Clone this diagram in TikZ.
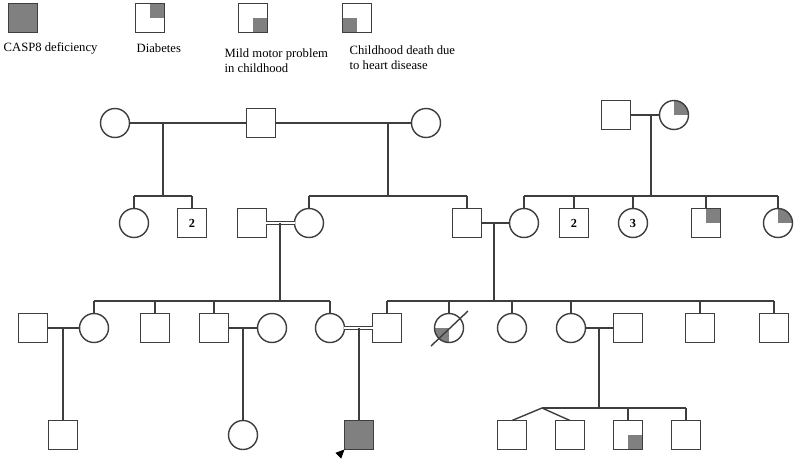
\documentclass[tikz,border=0pt]{standalone}
\usepackage{fontspec}
\setmainfont{Liberation Serif}
\usetikzlibrary{arrows.meta}
\definecolor{pedline}{RGB}{62,62,62}
\definecolor{affgray}{RGB}{128,128,128}

\begin{document}
\begin{tikzpicture}[x=0.02cm, y=-0.02cm, line width=0.8pt, pedline,
  male/.style={draw, rectangle, minimum size=0.58cm, inner sep=0pt, outer sep=0pt, text=black, font=\fontsize{7}{8}\selectfont\bfseries},
  female/.style={draw, circle, minimum size=0.58cm, inner sep=0pt, outer sep=0pt, text=black, font=\fontsize{7}{8}\selectfont\bfseries},
  full/.style={fill=affgray},
  qtr/.style={path picture={\fill[affgray] (path picture bounding box.center) rectangle (path picture bounding box.north east);}},
  qbr/.style={path picture={\fill[affgray] (path picture bounding box.center) rectangle (path picture bounding box.south east);}},
  qbl/.style={path picture={\fill[affgray] (path picture bounding box.center) rectangle (path picture bounding box.south west);}},
  legtext/.style={text=black, align=left, inner sep=0pt, font=\fontsize{7.2}{8.6}\selectfont},
  dbl/.style={double=white, double distance=0.7pt, line width=0.75pt}]
\fill[white] (0,0) rectangle (796,458);
\useasboundingbox (0,0) rectangle (796,458);

% Legend
\node[male, full] (lg1) at (23,18) {};
\node[male, qtr] (lg2) at (150,18) {};
\node[male, qbr] (lg3) at (253,18) {};
\node[male, qbl] (lg4) at (357,18) {};
\node[legtext, anchor=west] (lt1) at (3,48) {CASP8 deficiency};
\node[legtext, anchor=west] (lt2) at (136,48) {Diabetes};
\node[legtext, anchor=north west] (lt3) at (224,48) {Mild motor problem\\in childhood};
\node[legtext, anchor=north west] (lt4) at (349,45) {Childhood death due\\to heart disease};

% Generation I
\node[female] (I1) at (115,123) {};
\node[male] (I2) at (261,123) {};
\node[female] (I3) at (426,123) {};
\node[male] (I4) at (616,115) {};
\node[female, qtr] (I5) at (674,115) {};
\draw (I1) -- (I2);
\draw (I2) -- (I3);
\draw (I4) -- (I5);

% Generation II
\node[female] (II1) at (134,223) {};
\node[male] (II2) at (192,223) {2};
\node[male] (II3) at (252,223) {};
\node[female] (II4) at (309,223) {};
\node[male] (II5) at (467,223) {};
\node[female] (II6) at (524,223) {};
\node[male] (II7) at (574,223) {2};
\node[female] (II8) at (633,223) {3};
\node[male, qtr] (II9) at (706,223) {};
\node[female, qtr] (II10) at (778,223) {};
\draw[dbl] (II3) -- (II4);
\draw (II5) -- (II6);

% Descent I -> II
\coordinate (m1) at (163,123);
\coordinate (m2) at (388,123);
\coordinate (m3) at (651,115);
\coordinate (s1a) at (134,196);
\coordinate (s1b) at (192,196);
\coordinate (s2a) at (309,196);
\coordinate (s2b) at (467,196);
\coordinate (s3a) at (524,196);
\coordinate (s3b) at (778,196);
\draw (m1) -- (m1 |- s1a);
\draw (m2) -- (m2 |- s2a);
\draw (m3) -- (m3 |- s3a);
\draw (s1a) -- (s1b);
\draw (s2a) -- (s2b);
\draw (s3a) -- (s3b);
\foreach \c in {II1,II2} \draw (\c) -- (\c |- s1a);
\foreach \c in {II4,II5} \draw (\c) -- (\c |- s2a);
\foreach \c in {II6,II7,II8,II9,II10} \draw (\c) -- (\c |- s3a);

% Generation III
\node[male] (III1) at (33,328) {};
\node[female] (III2) at (94,328) {};
\node[male] (III3) at (155,328) {};
\node[male] (III4) at (214,328) {};
\node[female] (III5) at (272,328) {};
\node[female] (III6) at (330,328) {};
\node[male] (III7) at (387,328) {};
\node[female, qbl] (III8) at (449,328) {};
\node[female] (III9) at (512,328) {};
\node[female] (III10) at (571,328) {};
\node[male] (III11) at (628,328) {};
\node[male] (III12) at (700,328) {};
\node[male] (III13) at (774,328) {};
\draw (III1) -- (III2);
\draw (III4) -- (III5);
\draw[dbl] (III6) -- (III7);
\draw (III10) -- (III11);
\draw ([shift={(-18,18)}]III8.center) -- ([shift={(19,-17)}]III8.center);

% Descent II -> III
\coordinate (m4) at (280,223);
\coordinate (m5) at (494,223);
\coordinate (s4a) at (94,301);
\coordinate (s4b) at (330,301);
\coordinate (s5a) at (387,301);
\coordinate (s5b) at (774,301);
\draw (m4) -- (m4 |- s4a);
\draw (m5) -- (m5 |- s5a);
\draw (s4a) -- (s4b);
\draw (s5a) -- (s5b);
\foreach \c in {III2,III3,III4,III6} \draw (\c) -- (\c |- s4a);
\foreach \c in {III7,III8,III9,III10,III12,III13} \draw (\c) -- (\c |- s5a);

% Generation IV
\node[male] (IV1) at (63,435) {};
\node[female] (IV2) at (243,435) {};
\node[male, full] (IV3) at (359,435) {};
\node[male] (IV4) at (512,435) {};
\node[male] (IV5) at (570,435) {};
\node[male, qbr] (IV6) at (628,435) {};
\node[male] (IV7) at (686,435) {};

% Descent III -> IV
\coordinate (m6) at (63,328);
\coordinate (m7) at (243,328);
\coordinate (m8) at (359,328);
\coordinate (m9) at (599,328);
\coordinate (tw) at (542,408);
\coordinate (s6b) at (686,408);
\draw (m6) -- (IV1);
\draw (m7) -- (IV2);
\draw (m8) -- (IV3);
\draw (m9) -- (m9 |- tw);
\draw (tw) -- (s6b);
\draw (tw) -- (IV4.north);
\draw (tw) -- (IV5.north);
\foreach \c in {IV6,IV7} \draw (\c) -- (\c |- tw);

% Proband
\coordinate (pb) at (339,455);
\draw[black, line width=0.5pt, -{Triangle[length=5pt,width=4.5pt]}] (pb) -- (IV3.south west);
\end{tikzpicture}
\end{document}
